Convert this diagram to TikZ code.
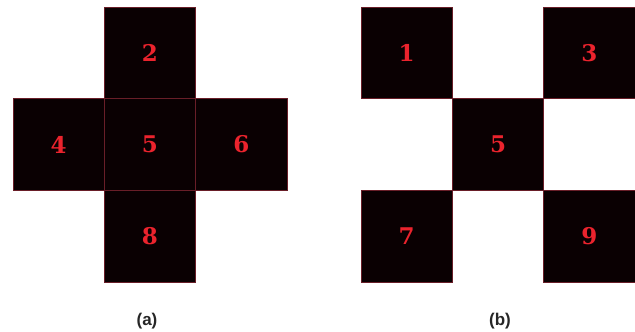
\documentclass[tikz,border=0pt]{standalone}
\usepackage{fontspec}
\newfontfamily\labfont{Liberation Sans}
\newfontfamily\digfont{DejaVu Serif}
\definecolor{cellfill}{RGB}{10,0,2}
\definecolor{celledge}{RGB}{105,30,40}
\definecolor{digit}{RGB}{235,35,45}
\begin{document}
\begin{tikzpicture}[x=1pt,y=-1pt,
  cell/.style={draw=celledge,line width=0.6pt,fill=cellfill,minimum width=91.3pt,minimum height=91.7pt,inner sep=0pt,outer sep=0pt,
    text=digit,font=\digfont\bfseries\fontsize{23}{23}\selectfont},
  caption/.style={font=\labfont\bfseries\fontsize{17}{17}\selectfont,text=black!85,inner sep=0pt}]
\useasboundingbox (0,0) rectangle (635,332);
% (a)
\node[cell] (a2) at (150,52.8) {2};
\node[cell] (a4) at (58.7,144.5) {4};
\node[cell] (a5) at (150,144.5) {5};
\node[cell] (a6) at (241.3,144.5) {6};
\node[cell] (a8) at (150,236.2) {8};
% (b)
\node[cell] (b1) at (406.7,52.8) {1};
\node[cell] (b3) at (589.3,52.8) {3};
\node[cell] (b5) at (498,144.5) {5};
\node[cell] (b7) at (406.7,236.2) {7};
\node[cell] (b9) at (589.3,236.2) {9};
\node[caption] (capa) at (147,321) {(a)};
\node[caption] (capb) at (500,321) {(b)};
\end{tikzpicture}
\end{document}
